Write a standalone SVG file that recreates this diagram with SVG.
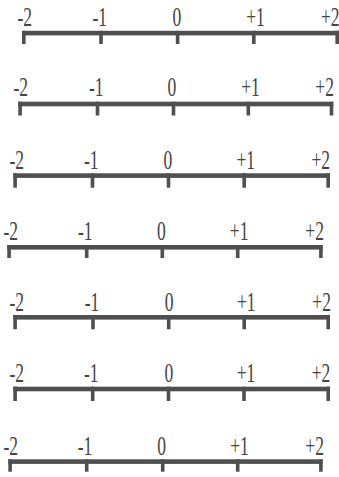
<svg xmlns="http://www.w3.org/2000/svg" width="339" height="477" viewBox="0 0 339 477">
<style>
.bar{fill:#4f4f4f}
.tk{fill:#4f4f4f}
.lb{font-family:"Liberation Serif","Times New Roman",serif;font-size:27px;fill:#444;text-anchor:middle}
</style>
<rect width="339" height="477" fill="#fff"/>
<g id="line1">
<rect class="bar" x="22" y="30.8" width="317" height="4.6"/>
<rect class="tk" x="22" y="30.8" width="3.6" height="13.2"/>
<rect class="tk" x="99.2" y="30.8" width="3.6" height="13.2"/>
<rect class="tk" x="175.8" y="30.8" width="3.6" height="13.2"/>
<rect class="tk" x="252" y="30.8" width="3.6" height="13.2"/>
<rect class="tk" x="335.4" y="30.8" width="3.6" height="13.2"/>
<text class="lb" transform="translate(24.8,26.3) scale(0.65,1)">-2</text>
<text class="lb" transform="translate(99.7,26.3) scale(0.65,1)">-1</text>
<text class="lb" transform="translate(177,26.3) scale(0.65,1)">0</text>
<text class="lb" transform="translate(255.5,26.3) scale(0.65,1)">+1</text>
<text class="lb" transform="translate(330.3,26.3) scale(0.65,1)">+2</text>
</g>
<g id="line2">
<rect class="bar" x="18.3" y="101.7" width="315" height="4.6"/>
<rect class="tk" x="18.3" y="101.7" width="3.6" height="13.8"/>
<rect class="tk" x="95.7" y="101.7" width="3.6" height="13.8"/>
<rect class="tk" x="171.7" y="101.7" width="3.6" height="13.8"/>
<rect class="tk" x="246.5" y="101.7" width="3.6" height="13.8"/>
<rect class="tk" x="329.7" y="101.7" width="3.6" height="13.8"/>
<text class="lb" transform="translate(20.8,96.3) scale(0.65,1)">-2</text>
<text class="lb" transform="translate(96.3,96.3) scale(0.65,1)">-1</text>
<text class="lb" transform="translate(172,96.3) scale(0.65,1)">0</text>
<text class="lb" transform="translate(250.5,96.3) scale(0.65,1)">+1</text>
<text class="lb" transform="translate(324.7,96.3) scale(0.65,1)">+2</text>
</g>
<g id="line3">
<rect class="bar" x="13.3" y="173.3" width="316.7" height="4.6"/>
<rect class="tk" x="13.3" y="173.3" width="3.6" height="14.4"/>
<rect class="tk" x="90.7" y="173.3" width="3.6" height="14.4"/>
<rect class="tk" x="166.7" y="173.3" width="3.6" height="14.4"/>
<rect class="tk" x="242.4" y="173.3" width="3.6" height="14.4"/>
<rect class="tk" x="326.4" y="173.3" width="3.6" height="14.4"/>
<text class="lb" transform="translate(16.7,169) scale(0.65,1)">-2</text>
<text class="lb" transform="translate(91.3,169) scale(0.65,1)">-1</text>
<text class="lb" transform="translate(167.8,169) scale(0.65,1)">0</text>
<text class="lb" transform="translate(245.8,169) scale(0.65,1)">+1</text>
<text class="lb" transform="translate(320.8,169) scale(0.65,1)">+2</text>
</g>
<g id="line4">
<rect class="bar" x="7.3" y="245" width="315.4" height="4.6"/>
<rect class="tk" x="7.3" y="245" width="3.6" height="13"/>
<rect class="tk" x="84.9" y="245" width="3.6" height="13"/>
<rect class="tk" x="160.5" y="245" width="3.6" height="13"/>
<rect class="tk" x="235.9" y="245" width="3.6" height="13"/>
<rect class="tk" x="319.1" y="245" width="3.6" height="13"/>
<text class="lb" transform="translate(10.8,239.5) scale(0.65,1)">-2</text>
<text class="lb" transform="translate(85.3,239.5) scale(0.65,1)">-1</text>
<text class="lb" transform="translate(161.5,239.5) scale(0.65,1)">0</text>
<text class="lb" transform="translate(239.2,239.5) scale(0.65,1)">+1</text>
<text class="lb" transform="translate(314.7,239.5) scale(0.65,1)">+2</text>
</g>
<g id="line5">
<rect class="bar" x="13.3" y="315" width="316.7" height="4.6"/>
<rect class="tk" x="13.3" y="315" width="3.6" height="14.3"/>
<rect class="tk" x="91.2" y="315" width="3.6" height="14.3"/>
<rect class="tk" x="166.9" y="315" width="3.6" height="14.3"/>
<rect class="tk" x="242.4" y="315" width="3.6" height="14.3"/>
<rect class="tk" x="326.4" y="315" width="3.6" height="14.3"/>
<text class="lb" transform="translate(16.7,310.7) scale(0.65,1)">-2</text>
<text class="lb" transform="translate(92,310.7) scale(0.65,1)">-1</text>
<text class="lb" transform="translate(169.2,310.7) scale(0.65,1)">0</text>
<text class="lb" transform="translate(246.3,310.7) scale(0.65,1)">+1</text>
<text class="lb" transform="translate(321.7,310.7) scale(0.65,1)">+2</text>
</g>
<g id="line6">
<rect class="bar" x="13.3" y="386.7" width="316.7" height="4.6"/>
<rect class="tk" x="13.3" y="386.7" width="3.6" height="14.3"/>
<rect class="tk" x="90.9" y="386.7" width="3.6" height="14.3"/>
<rect class="tk" x="166.7" y="386.7" width="3.6" height="14.3"/>
<rect class="tk" x="242.2" y="386.7" width="3.6" height="14.3"/>
<rect class="tk" x="326.4" y="386.7" width="3.6" height="14.3"/>
<text class="lb" transform="translate(16.7,382) scale(0.65,1)">-2</text>
<text class="lb" transform="translate(91.3,382) scale(0.65,1)">-1</text>
<text class="lb" transform="translate(168.8,382) scale(0.65,1)">0</text>
<text class="lb" transform="translate(246,382) scale(0.65,1)">+1</text>
<text class="lb" transform="translate(321,382) scale(0.65,1)">+2</text>
</g>
<g id="line7">
<rect class="bar" x="8.3" y="459.3" width="314.4" height="4.6"/>
<rect class="tk" x="8.3" y="459.3" width="3.6" height="12.4"/>
<rect class="tk" x="84.9" y="459.3" width="3.6" height="12.4"/>
<rect class="tk" x="160.9" y="459.3" width="3.6" height="12.4"/>
<rect class="tk" x="235.9" y="459.3" width="3.6" height="12.4"/>
<rect class="tk" x="319.1" y="459.3" width="3.6" height="12.4"/>
<text class="lb" transform="translate(10.8,454.8) scale(0.65,1)">-2</text>
<text class="lb" transform="translate(85,454.8) scale(0.65,1)">-1</text>
<text class="lb" transform="translate(161.7,454.8) scale(0.65,1)">0</text>
<text class="lb" transform="translate(239.5,454.8) scale(0.65,1)">+1</text>
<text class="lb" transform="translate(314.7,454.8) scale(0.65,1)">+2</text>
</g>
</svg>
